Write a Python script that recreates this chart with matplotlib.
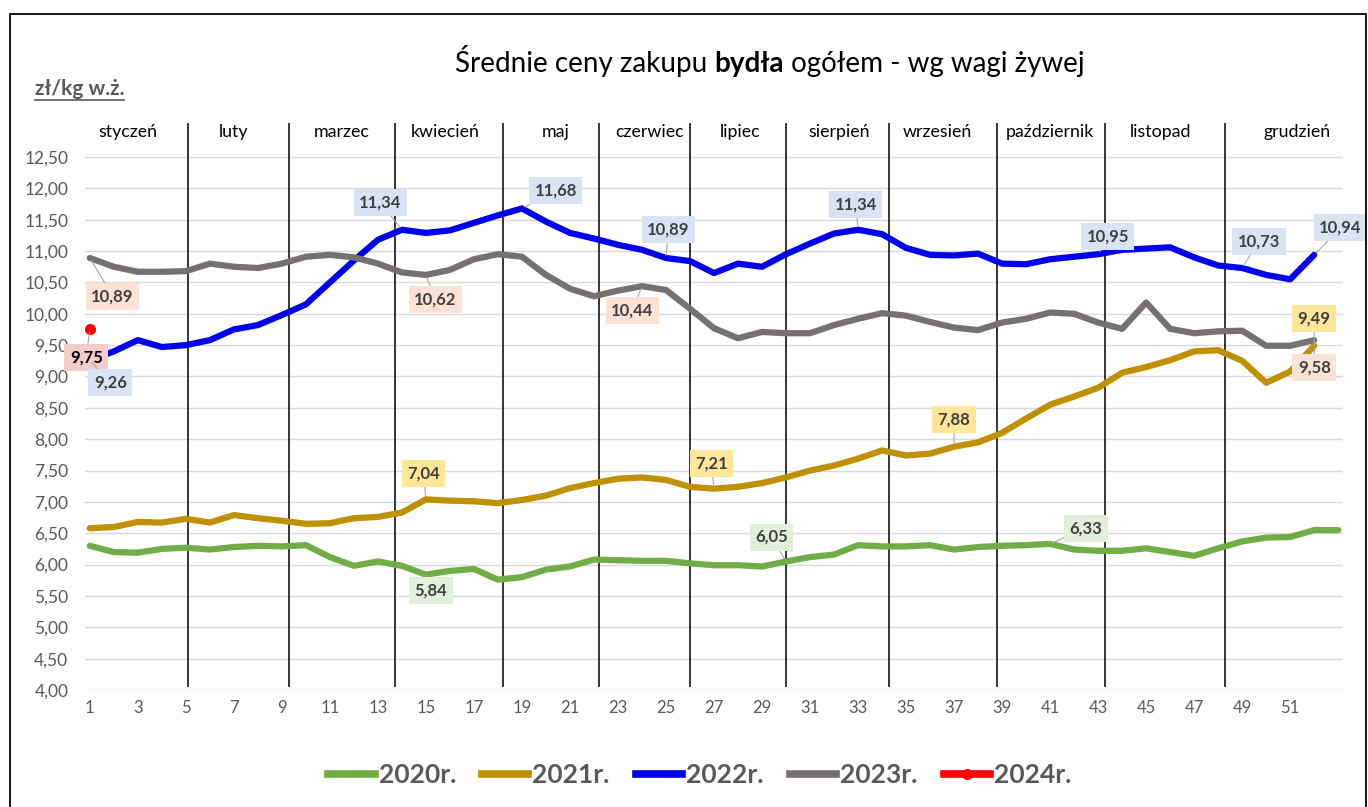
import matplotlib
matplotlib.use("Agg")
import matplotlib.pyplot as plt
from matplotlib.lines import Line2D
from matplotlib.patches import Rectangle
import numpy as np

plt.rcParams['font.family'] = ['Lato', 'DejaVu Sans']

# ---------------- data ----------------
weeks_2020 = list(range(1, 54))
weeks = list(range(1, 53))
p2020 = [6.30, 6.20, 6.19, 6.25, 6.27, 6.24, 6.28, 6.30, 6.29, 6.31,
         6.12, 5.98, 6.05, 5.98, 5.84, 5.90, 5.93, 5.76, 5.80, 5.92,
         5.97, 6.08, 6.07, 6.06, 6.06, 6.02, 5.99, 5.99, 5.97, 6.05,
         6.12, 6.16, 6.31, 6.29, 6.29, 6.31, 6.24, 6.28, 6.30, 6.31,
         6.33, 6.24, 6.22, 6.22, 6.26, 6.20, 6.14, 6.26, 6.37, 6.43,
         6.44, 6.55, 6.55]
p2021 = [6.58, 6.60, 6.68, 6.67, 6.73, 6.67, 6.79, 6.74, 6.70, 6.65,
         6.66, 6.74, 6.76, 6.83, 7.04, 7.02, 7.01, 6.98, 7.03, 7.10,
         7.22, 7.30, 7.37, 7.39, 7.35, 7.24, 7.21, 7.24, 7.30, 7.39,
         7.50, 7.58, 7.69, 7.82, 7.74, 7.77, 7.88, 7.95, 8.10, 8.33,
         8.55, 8.68, 8.82, 9.06, 9.15, 9.26, 9.40, 9.42, 9.25, 8.90,
         9.08, 9.49]
p2022 = [9.26, 9.40, 9.58, 9.47, 9.50, 9.58, 9.75, 9.82, 9.98, 10.15,
         10.50, 10.85, 11.18, 11.34, 11.29, 11.33, 11.45, 11.57, 11.68, 11.47,
         11.29, 11.20, 11.10, 11.02, 10.89, 10.84, 10.65, 10.80, 10.75, 10.95,
         11.12, 11.28, 11.34, 11.27, 11.05, 10.94, 10.93, 10.96, 10.80, 10.79,
         10.87, 10.91, 10.95, 11.02, 11.04, 11.06, 10.90, 10.77, 10.73, 10.62,
         10.55, 10.94]
p2023 = [10.89, 10.75, 10.67, 10.67, 10.68, 10.80, 10.75, 10.73, 10.80, 10.91,
         10.94, 10.90, 10.80, 10.66, 10.62, 10.70, 10.87, 10.95, 10.91, 10.62,
         10.40, 10.28, 10.37, 10.44, 10.38, 10.08, 9.77, 9.61, 9.71, 9.69,
         9.69, 9.82, 9.92, 10.01, 9.97, 9.87, 9.78, 9.74, 9.86, 9.92,
         10.02, 10.00, 9.86, 9.76, 10.18, 9.76, 9.69, 9.72, 9.73, 9.49,
         9.49, 9.58]
weeks_2024 = [1]
p2024 = [9.75]

months = ['styczeń', 'luty', 'marzec', 'kwiecień', 'maj', 'czerwiec', 'lipiec',
          'sierpień', 'wrzesień', 'październik', 'listopad', 'grudzień']
series_names = ['2020r.', '2021r.', '2022r.', '2023r.', '2024r.']

# ---------------- style ----------------
colors = {'2020': '#70ad47', '2021': '#bf9000', '2022': '#0000ee',
          '2023': '#767171', '2024': '#ff0000'}
box_colors = {'2020': '#e2efda', '2021': '#ffe699', '2022': '#dae3f3',
              '2023': '#fbe2d5', '2024': '#f4cccc'}
month_label_x = [2.6, 7.0, 11.5, 15.8, 20.4, 24.3, 28.1, 32.2, 36.3, 41.0, 45.6, 51.3]
month_bounds = [5.1, 9.3, 13.7, 18.2, 22.2, 26.0, 30.0, 34.3, 38.8, 43.3, 48.3]

W, H = 1368, 807
fig = plt.figure(figsize=(W / 100, H / 100), dpi=100)
ax = fig.add_axes([85 / W, 1 - 690 / H, (1343 - 85) / W, (690 - 110) / H])
ax.set_xlim(0.8, 53.2)
ax.set_ylim(4.0, 13.25)

yt = np.arange(4.0, 12.51, 0.5)
ax.set_yticks(yt)
ax.set_yticklabels([f"{v:.2f}".replace('.', ',') for v in yt])
xt = list(range(1, 52, 2))
ax.set_xticks(xt)
ax.set_xticklabels([str(v) for v in xt])
ax.tick_params(axis='y', length=0, labelsize=12.5, labelcolor='#595959', pad=12)
ax.tick_params(axis='x', length=0, labelsize=12, labelcolor='#595959', pad=7)
ax.grid(axis='y', color='#d9d9d9', lw=1)
ax.set_axisbelow(True)
for s in ax.spines.values():
    s.set_visible(False)

# month separators and names
ax.vlines(month_bounds, 4.05, 13.05, color='black', lw=1.1, zorder=1)
for name, mx in zip(months, month_label_x):
    ax.text(mx, 12.9, name, ha='center', va='center', fontsize=12.8, color='black')

lw = 4.5
for xs, ys, key in [(weeks_2020, p2020, '2020'), (weeks, p2021, '2021'),
                    (weeks, p2022, '2022'), (weeks, p2023, '2023')]:
    ax.plot(xs, ys, color=colors[key], lw=lw, solid_joinstyle='round',
            solid_capstyle='round', zorder=3)
ax.plot(weeks_2024, p2024, color=colors['2024'], lw=lw, marker='o', ms=7,
        zorder=4, clip_on=False)

# data labels: (series, week, label centre x, label centre y)
data = {'2020': (weeks_2020, p2020), '2021': (weeks, p2021), '2022': (weeks, p2022),
        '2023': (weeks, p2023), '2024': (weeks_2024, p2024)}
labels = [
    ('2024', 1, 0.85, 9.31),
    ('2022', 1, 1.85, 8.90),
    ('2023', 1, 1.95, 10.28),
    ('2022', 14, 13.1, 11.78),
    ('2023', 15, 15.4, 10.22),
    ('2022', 19, 20.4, 11.96),
    ('2022', 25, 25.1, 11.35),
    ('2023', 24, 23.6, 10.06),
    ('2022', 33, 32.9, 11.75),
    ('2022', 43, 43.4, 11.24),
    ('2022', 49, 49.7, 11.16),
    ('2022', 52, 53.1, 11.37),
    ('2021', 52, 52.0, 9.93),
    ('2023', 52, 52.0, 9.14),
    ('2021', 15, 14.9, 7.46),
    ('2020', 15, 15.2, 5.59),
    ('2021', 27, 26.9, 7.62),
    ('2020', 30, 29.4, 6.44),
    ('2021', 37, 37.0, 8.31),
    ('2020', 41, 42.5, 6.58),
]
for key, wk, lx, ly in labels:
    xs, ys = data[key]
    v = ys[xs.index(wk)]
    txt = f"{v:.2f}".replace('.', ',')
    tcol = 'black' if key == '2024' else '#404040'
    ax.annotate(txt, xy=(wk, v), xytext=(lx, ly), textcoords='data',
                ha='center', va='center', fontsize=12, fontweight='bold',
                color=tcol, zorder=6, annotation_clip=False,
                bbox=dict(boxstyle='square,pad=0.33', fc=box_colors[key], ec='none'),
                arrowprops=dict(arrowstyle='-', color='#a6a6a6', lw=0.8,
                                shrinkA=0, shrinkB=2))

# title (with bold word)
ty = 1 - 77 / H
tfs = 20
t1 = fig.text(0.33, ty, 'Średnie ceny zakupu ', fontsize=tfs, va='bottom', ha='left',
              color='black')
t2 = fig.text(0, 0, 'bydła', fontsize=tfs, fontweight='bold', va='bottom', ha='left',
              color='black')
t3 = fig.text(0, 0, ' ogółem - wg wagi żywej', fontsize=tfs, va='bottom', ha='left',
              color='black')
ylab = fig.text(35 / W, 1 - 89 / H, 'zł/kg w.ż.', fontsize=15, fontweight='bold',
                color='#595959', ha='left', va='center')

fig.canvas.draw()
r = fig.canvas.get_renderer()
inv = fig.transFigure.inverted()
b1 = t1.get_window_extent(r)
b2 = t2.get_window_extent(r)
b3 = t3.get_window_extent(r)
total = b1.width + b2.width + b3.width
start = 770 - total / 2
t1.set_position((start / W, ty))
t2.set_position(((start + b1.width) / W, ty))
t3.set_position(((start + b1.width + b2.width) / W, ty))
by = ylab.get_window_extent(r)
(x0, y0) = inv.transform((by.x0, by.y0))
(x1, _) = inv.transform((by.x1, by.y0))
fig.add_artist(Line2D([x0, x1], [y0 - 0.001, y0 - 0.001], transform=fig.transFigure,
                      color='#595959', lw=1.2))

# legend
handles = [Line2D([], [], color=colors['2020'], lw=5.5),
           Line2D([], [], color=colors['2021'], lw=5.5),
           Line2D([], [], color=colors['2022'], lw=5.5),
           Line2D([], [], color=colors['2023'], lw=5.5),
           Line2D([], [], color=colors['2024'], lw=5.5, marker='o', ms=7)]
leg = fig.legend(handles, series_names, loc='center', bbox_to_anchor=(700 / W, 1 - 775 / H),
                 ncol=5, frameon=False, fontsize=19, handlelength=1.75,
                 handletextpad=0.15, columnspacing=1.0)
for t in leg.get_texts():
    t.set_color('#595959')
    t.set_fontweight('bold')

# outer border
fig.add_artist(Rectangle((10 / W, -0.01), (1366 - 10) / W, 1 - 14 / H + 0.01,
                         transform=fig.transFigure, fill=False, ec='black', lw=1.3))

fig.savefig('out.png', dpi=100)
